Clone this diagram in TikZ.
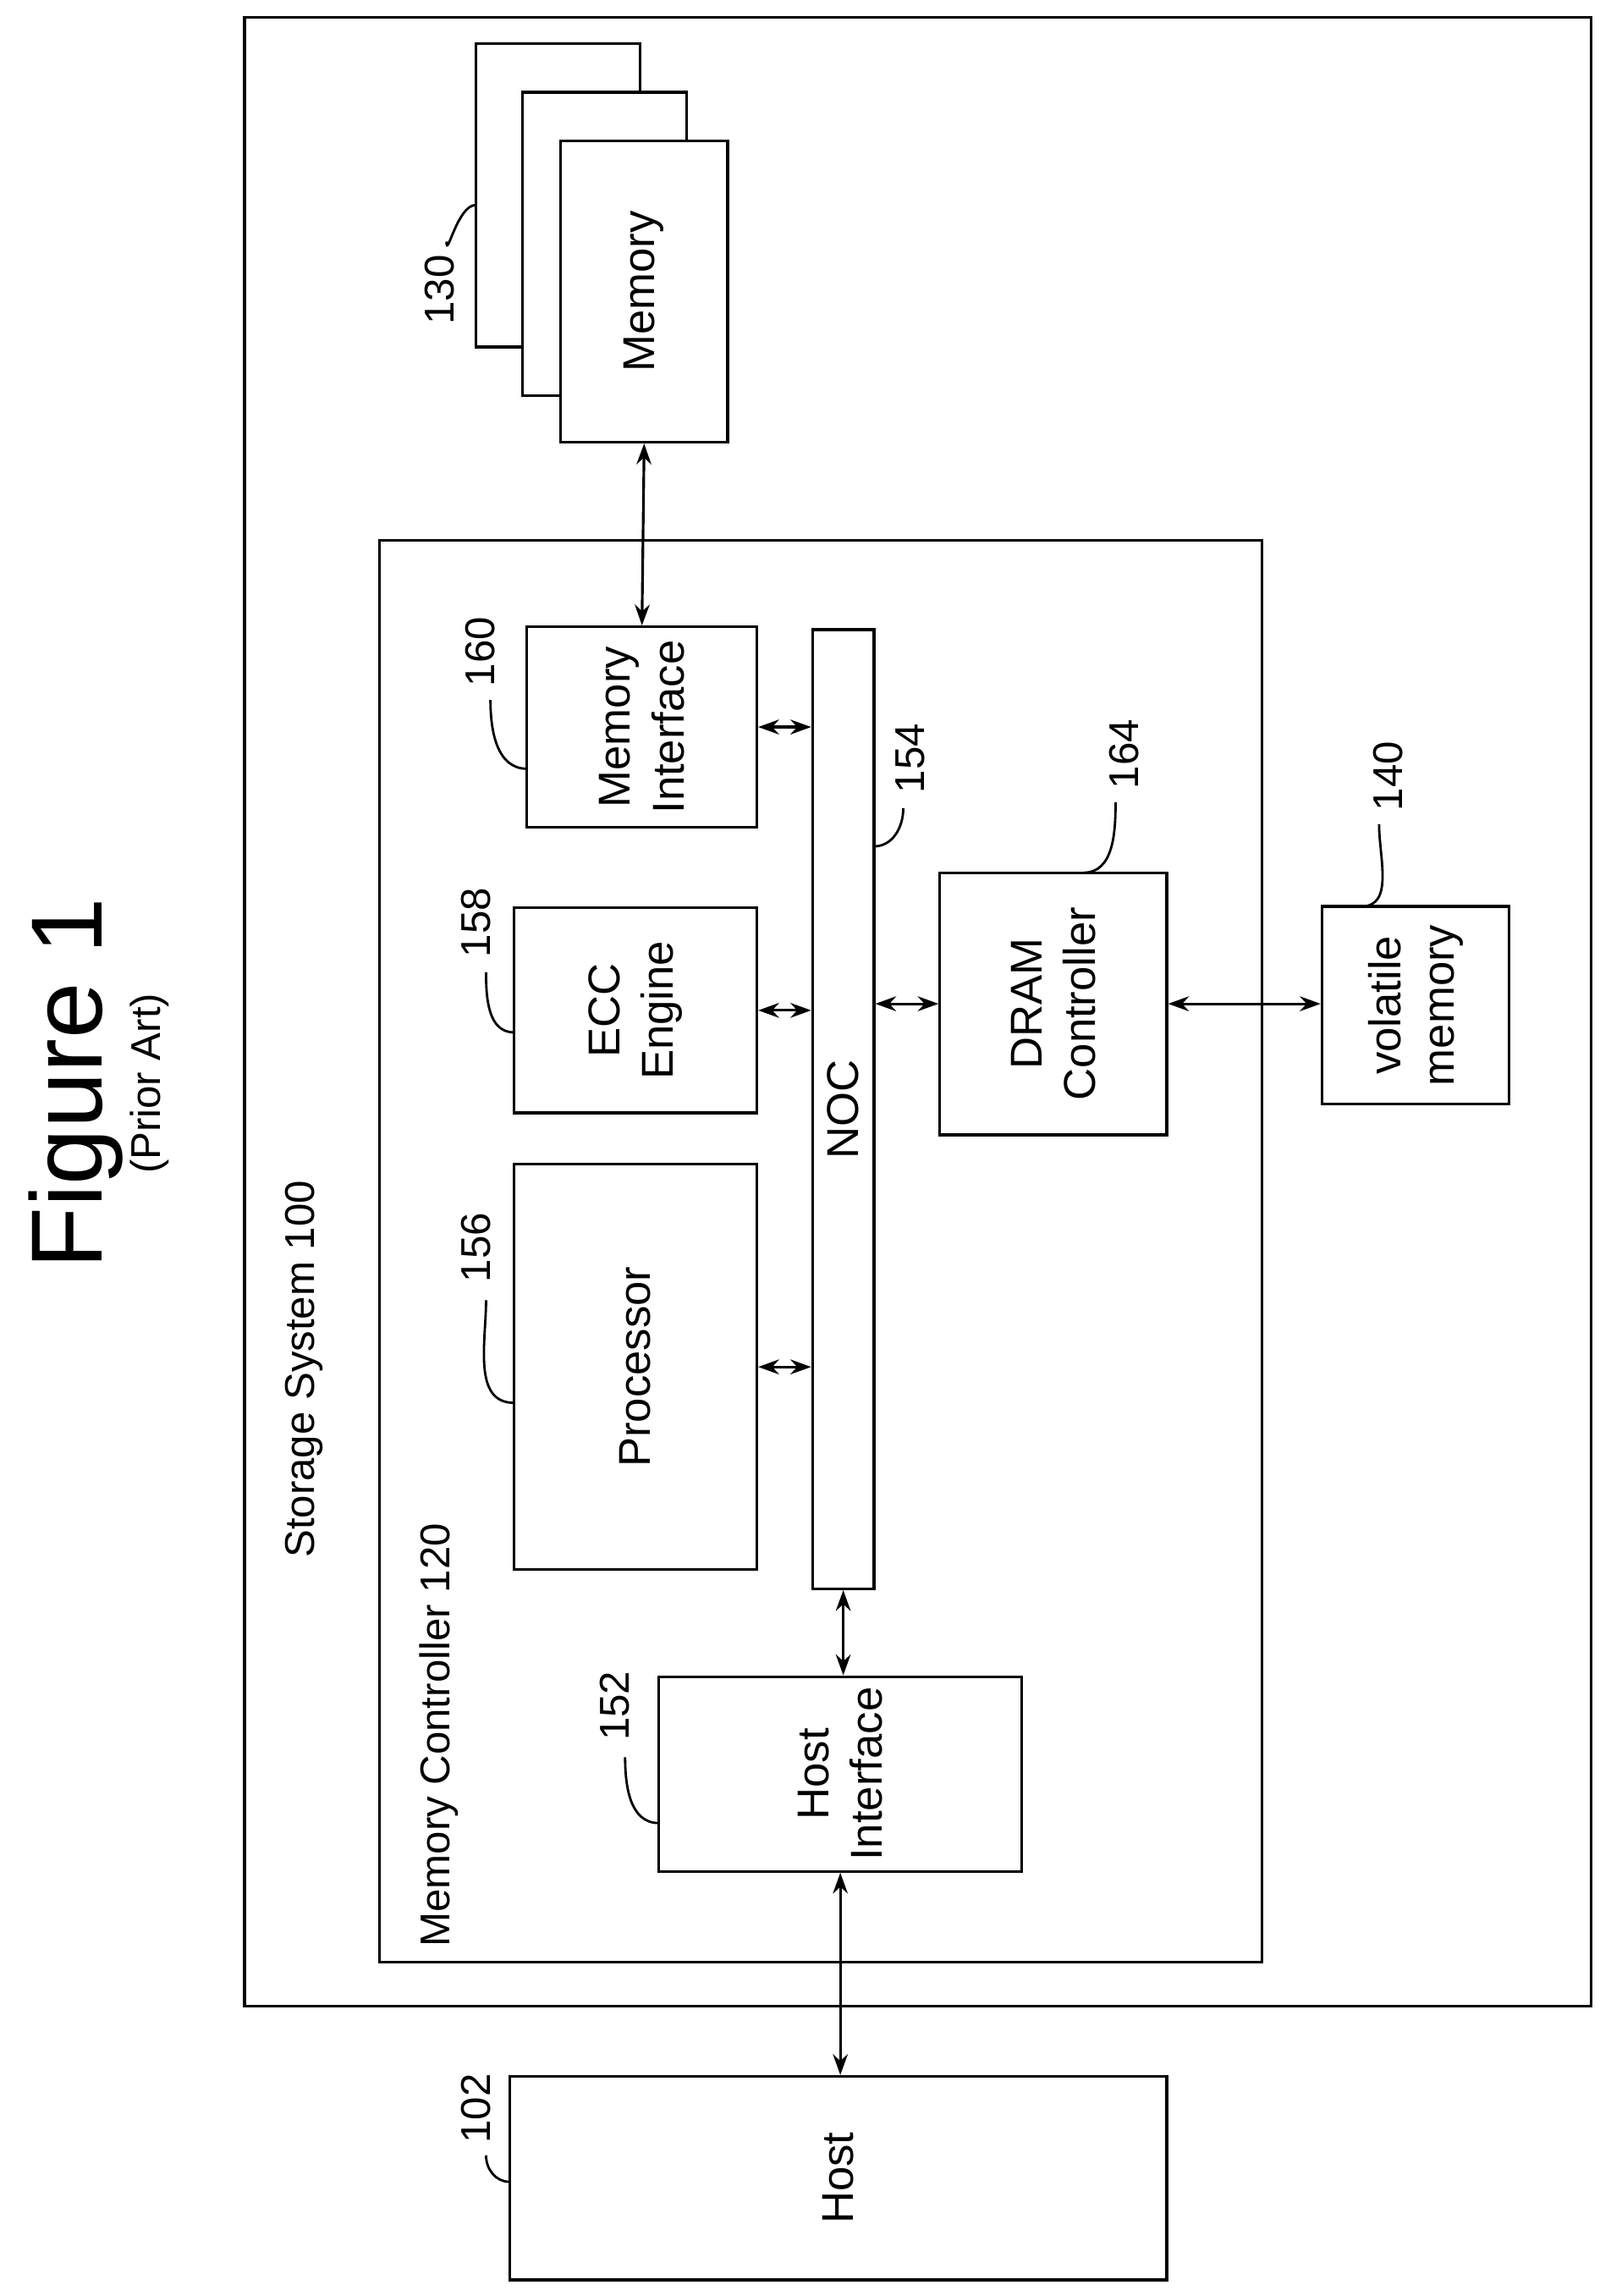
\documentclass[tikz,border=0pt]{standalone}
\usepackage{fontspec}
\setmainfont{Liberation Sans}
\usetikzlibrary{fit,arrows.meta}
\tikzset{
  box/.style={draw, line width=0.9pt, fill=white, inner sep=0pt},
  txt/.style={rotate=90, align=center, font=\fontsize{15}{18}\selectfont},
  num/.style={rotate=90, font=\fontsize{14}{17}\selectfont},
  link/.style={line width=0.9pt, {Stealth[length=7pt,width=5pt]}-{Stealth[length=7pt,width=5pt]}},
  lead/.style={line width=0.8pt}
}
\begin{document}
\begin{tikzpicture}[x=0.0173cm, y=-0.0173cm]
        \useasboundingbox (0,0) rectangle (1100,1568);
        % title
        \node[rotate=90, font=\fontsize{34}{40}\selectfont] (title) at (52,740) {Figure 1};
        \node[num] (prior) at (102,740) {(Prior Art)};
        % outer boxes
        \node[box, fit={(167,12)(1087,1370)}] (sys) {};
        \node[num] at (208,935) {Storage System 100};
        \node[box, fit={(259,369)(862,1340)}] (ctrl) {};
        \node[num] at (300,1185) {Memory Controller 120};
        % memory stack
        \node[box, fit={(325,30)(437,237)}] (mem3) {};
        \node[box, fit={(357,63)(469,270)}] (mem2) {};
        \node[box, fit={(383,96)(497,302)}] (mem) {};
        \node[txt] at (mem) {Memory};
        % blocks
        \node[box, fit={(360,428)(517,565)}] (memif) {};
        \node[txt] at (memif) {Memory\\Interface};
        \node[box, fit={(555,430)(597,1085)}] (noc) {};
        \node[txt] at (noc) {NOC};
        \node[box, fit={(351,620)(517,760)}] (ecc) {};
        \node[txt] at (ecc) {ECC\\Engine};
        \node[box, fit={(351,795)(517,1072)}] (proc) {};
        \node[txt] at (proc) {Processor};
        \node[box, fit={(450,1145)(698,1278)}] (hostif) {};
        \node[txt] at (hostif) {Host\\Interface};
        \node[box, fit={(642,596)(797,775)}] (dram) {};
        \node[txt] at (dram) {DRAM\\Controller};
        \node[box, fit={(903,619)(1031,754)}] (vol) {};
        \node[txt] at (vol) {volatile\\memory};
        \node[box, fit={(348,1418)(797,1557)}] (host) {};
        \node[txt] at (host) {Host};
        % connectors
        \draw[link] (mem.south) -- (memif.north);
        \draw[link] (memif.east) -- (memif.east -| noc.west);
        \draw[link] (ecc.east) -- (ecc.east -| noc.west);
        \draw[link] (proc.east) -- (proc.east -| noc.west);
        \draw[link] (noc.east |- dram.west) -- (dram.west);
        \draw[link] (dram.east) -- (dram.east -| vol.west);
        \draw[link] (noc.south) -- (noc.south |- hostif.north);
        \draw[link] (hostif.south) -- (hostif.south |- host.north);
        % reference numbers
        \node[num] (n130) at (300,198) {130};
        \draw[lead] (305,165) to[out=-90,in=180] (325,140);
        \node[num] (n160) at (328,445) {160};
        \draw[lead] (335,478) to[out=-90,in=180] (360,525);
        \node[num] (n158) at (325,630) {158};
        \draw[lead] (332,664) to[out=-90,in=180] (351,705);
        \node[num] (n156) at (325,852) {156};
        \draw[lead] (332,888) to[out=-90,in=180] (351,958);
        \node[num] (n152) at (420,1165) {152};
        \draw[lead] (427,1200) to[out=-90,in=180] (450,1245);
        \node[num] (n154) at (622,518) {154};
        \draw[lead] (617,552) to[out=-90,in=0] (597,578);
        \node[num] (n164) at (768,515) {164};
        \draw[lead] (762,548) to[out=-90,in=0] (740,596);
        \node[num] (n140) at (948,530) {140};
        \draw[lead] (942,563) to[out=-90,in=0] (930,619);
        \node[num] (n102) at (325,1440) {102};
        \draw[lead] (332,1472) to[out=-90,in=180] (348,1490);
\end{tikzpicture}
\end{document}
